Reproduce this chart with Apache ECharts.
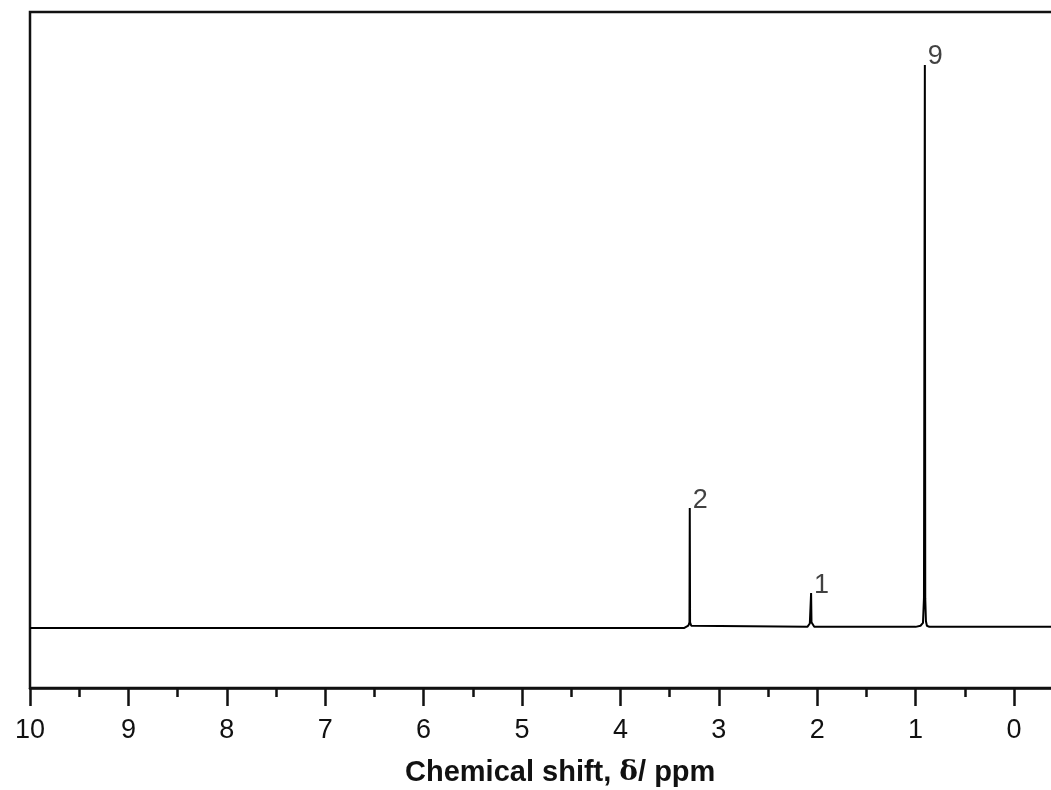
<!DOCTYPE html>
<html>
<head>
<meta charset='utf-8'>
<title>1H NMR</title>
<script src='https://cdn.jsdelivr.net/npm/echarts@6/dist/echarts.min.js'></script>
<style>
  html, body { margin: 0; padding: 0; background: #fff; }
</style>
</head>
<body>
<div id='main' style='width: 1051px;height:790px;'></div>

<script type='text/javascript'>
// spectrum trace (ppm, relative intensity, tallest peak = 100)
var shift = [10.0, 3.35, 3.31, 3.298, 3.295, 3.292, 3.28, 3.26,
             2.10, 2.075, 2.065, 2.062, 2.058, 2.05, 2.03,
             1.00, 0.95, 0.925, 0.915, 0.909, 0.906, 0.902, 0.895, 0.885, 0.86, -1.0];
var intensity = [0, 0, 0.4, 1.0, 21.3, 1.0, 0.4, 0.2,
                 0.2, 0.8, 1.0, 6.2, 1.0, 0.8, 0.2,
                 0.2, 0.4, 0.9, 5.3, 5.3, 100, 5.3, 1.2, 0.4, 0.2, 0.2];

// integration labels at the peak tops
var peakShift = [3.295, 2.062, 0.906];
var peakHeight = [21.3, 6.2, 100];
var peakLabel = ['2', '1', '9'];

var xTicks = ['10', '9', '8', '7', '6', '5', '4', '3', '2', '1', '0'];

var font = 'Liberation Sans, Arial, sans-serif';
var ink = '#111';

var spectrum = shift.map(function (s, i) { return [s, intensity[i]]; });
var peaks = peakShift.map(function (s, i) { return { value: [s, peakHeight[i]], name: peakLabel[i] }; });

var myChart = echarts.init(document.getElementById('main'));

var option = {
    animation: false,
    backgroundColor: '#fff',
    grid: {
        left: 30,
        top: 12,
        right: -61.4,
        bottom: 102,
        outerBoundsMode: 'none',
        show: true,
        borderColor: '#111',
        borderWidth: 2.5
    },
    xAxis: {
        type: 'value',
        inverse: true,
        min: -1,
        max: 10,
        interval: 1,
        name: '{a|Chemical shift, }{d|δ}{a|/ ppm}',
        nameLocation: 'middle',
        nameGap: 70,
        nameTextStyle: {
            padding: [0, 22, 0, 0],
            rich: {
                a: { fontFamily: font, fontWeight: 'bold', fontSize: 29, color: ink },
                d: { fontFamily: 'DejaVu Serif, serif', fontWeight: 'bold', fontSize: 28, color: ink }
            }
        },
        axisLine: { onZero: false, lineStyle: { color: '#111', width: 2.5 } },
        axisTick: { show: true, inside: false, length: 18, lineStyle: { color: '#111', width: 2.5 } },
        minorTick: { show: true, splitNumber: 2, length: 9, lineStyle: { color: '#111', width: 2.5 } },
        splitLine: { show: false },
        minorSplitLine: { show: false },
        axisLabel: {
            margin: 29,
            fontFamily: font,
            fontSize: 27,
            color: ink,
            showMinLabel: true,
            showMaxLabel: true,
            formatter: function (v) {
                var s = String(v);
                return xTicks.indexOf(s) >= 0 ? s : '';
            }
        }
    },
    yAxis: {
        type: 'value',
        min: -10.66,
        max: 109.4,
        axisLine: { show: false },
        axisTick: { show: false },
        axisLabel: { show: false },
        splitLine: { show: false }
    },
    series: [
        {
            type: 'line',
            data: spectrum,
            showSymbol: false,
            symbol: 'none',
            lineStyle: { color: '#000', width: 2 },
            clip: true
        },
        {
            type: 'scatter',
            data: peaks,
            symbolSize: 0,
            label: {
                show: true,
                position: 'right',
                distance: 3,
                offset: [0, -8],
                formatter: '{b}',
                fontFamily: font,
                fontSize: 27,
                color: ink
            }
        }
    ]
};

myChart.setOption(option);
</script>
</body>
</html>
